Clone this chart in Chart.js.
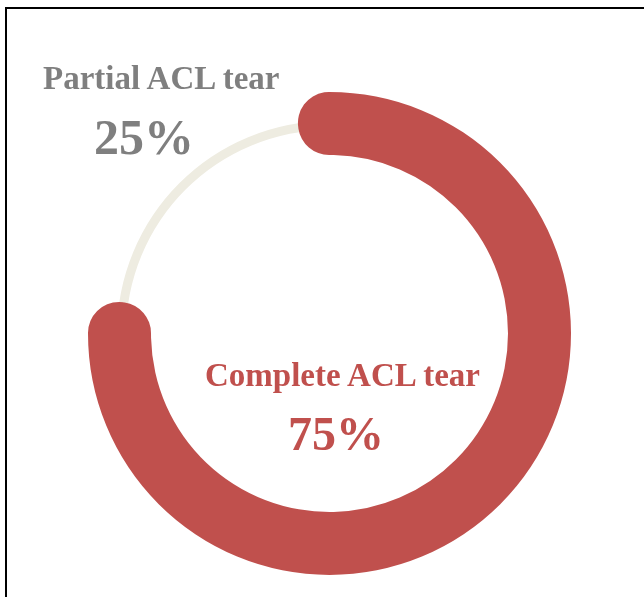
<!DOCTYPE html>
<html>
<head>
<meta charset="utf-8">
<script src="https://cdn.jsdelivr.net/npm/chart.js@4.4.1/dist/chart.umd.min.js"></script>
<style>
  html, body { margin: 0; padding: 0; background: #fff; overflow: hidden; }
  body { width: 644px; height: 597px; position: relative; }
  .frame {
    position: absolute; left: 5px; top: 7px; width: 800px; height: 800px;
    border-left: 2px solid #000; border-top: 2px solid #000;
  }
  .ring { position: absolute; left: 80px; top: 84px; width: 499px; height: 499px; }
  .ring canvas { position: absolute; left: 0; top: 0; }
  .lbl {
    position: absolute; white-space: nowrap; line-height: 1;
    font-family: "Liberation Serif", "Times New Roman", serif; font-weight: bold;
  }
  #partialName { left: 43px; top: 62px; font-size: 33px; color: #7f7f7f; }
  #partialPct  { left: 94px; top: 112px; font-size: 50px; color: #7f7f7f; }
  #completeName { left: 205px; top: 359px; font-size: 33px; color: #c0504d; }
  #completePct  { left: 288px; top: 410px; font-size: 48px; color: #c0504d; }
</style>
</head>
<body>
<div class="frame"></div>
<div class="ring">
  <canvas id="track" width="499" height="499"></canvas>
  <canvas id="main" width="499" height="499"></canvas>
</div>
<div class="lbl" id="partialName"></div>
<div class="lbl" id="partialPct"></div>
<div class="lbl" id="completeName"></div>
<div class="lbl" id="completePct"></div>

<script>
  // data
  const categories = ["Complete ACL tear", "Partial ACL tear"];
  const shares = [75, 25];

  const RED = "#c0504d";
  const TRACK = "#eeece1";

  // ring geometry (px)
  const outerR = 241.5, innerR = 178.5;
  const trackOuter = 212.5, trackInner = 203.5;
  const capDeg = ((outerR - innerR) / 2) / ((outerR + innerR) / 2) * 180 / Math.PI;

  const total = shares.reduce((a, b) => a + b, 0);
  const mainShare = shares[0] / total;
  // stretch the sweep so the red band's rounded ends run past its 75% mark
  const sweep = (360 * mainShare + 2 * capDeg) / mainShare;

  document.getElementById("completeName").textContent = categories[0];
  document.getElementById("partialName").textContent = categories[1];
  document.getElementById("completePct").textContent = shares[0] + "%";
  document.getElementById("partialPct").textContent = shares[1] + "%";

  const baseOptions = {
    responsive: false,
    animation: false,
    events: [],
    plugins: { legend: { display: false }, tooltip: { enabled: false } },
  };

  new Chart(document.getElementById("track"), {
    type: "doughnut",
    data: {
      labels: categories,
      datasets: [{
        data: shares,
        backgroundColor: ["rgba(0,0,0,0)", TRACK],
        borderWidth: 0,
      }],
    },
    options: {
      ...baseOptions,
      radius: trackOuter,
      cutout: (trackInner / trackOuter * 100) + "%",
    },
  });

  new Chart(document.getElementById("main"), {
    type: "doughnut",
    data: {
      labels: categories,
      datasets: [{
        data: shares,
        backgroundColor: [RED, "rgba(0,0,0,0)"],
        borderWidth: 0,
        borderRadius: [31, 0],
      }],
    },
    options: {
      ...baseOptions,
      radius: outerR,
      cutout: (innerR / outerR * 100) + "%",
      rotation: -capDeg,
      circumference: sweep,
    },
  });
</script>
</body>
</html>
